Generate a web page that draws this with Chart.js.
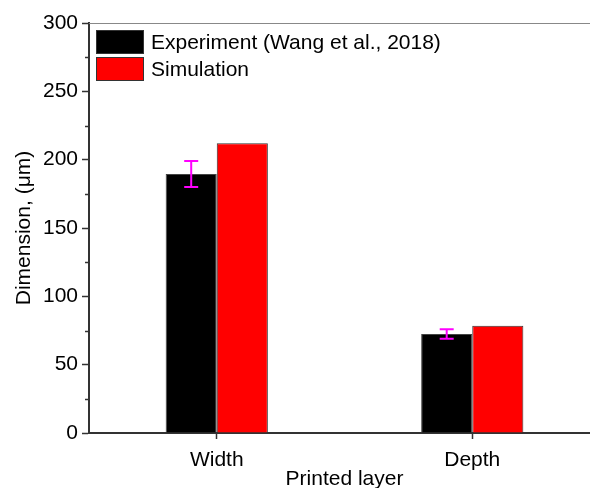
<!DOCTYPE html>
<html>
<head>
<meta charset="utf-8">
<script src="https://cdn.jsdelivr.net/npm/chart.js@4"></script>
<style>
  html, body { margin: 0; padding: 0; background: #fff; overflow: hidden; }
  #wrap { width: 600px; height: 488px; }
</style>
</head>
<body>
<div id="wrap"><canvas id="grafico"></canvas></div>
<script>
// datos
const categorias = ["Width", "Depth"];
const experimento = [189.5, 72.5];
const errorExperimento = [9.5, 3.5];
const simulacion = [212, 78.5];
const etiquetas = ["Experiment (Wang et al., 2018)", "Simulation"];

const FUENTE = "'Liberation Sans', Arial, sans-serif";
const TAM = 21;

// barras de error + ticks menores + borde superior + leyenda interna
const extras = {
  id: "extras",
  afterDatasetsDraw(chart) {
    const { ctx, scales } = chart;
    const y = scales.y;
    const meta = chart.getDatasetMeta(0);

    ctx.save();
    ctx.strokeStyle = "#ff00ff";
    ctx.lineWidth = 2;
    meta.data.forEach((bar, i) => {
      const top = y.getPixelForValue(experimento[i] + errorExperimento[i]);
      const bot = y.getPixelForValue(experimento[i] - errorExperimento[i]);
      const cap = 7;
      ctx.beginPath();
      ctx.moveTo(bar.x, top); ctx.lineTo(bar.x, bot);
      ctx.moveTo(bar.x - cap, top); ctx.lineTo(bar.x + cap, top);
      ctx.moveTo(bar.x - cap, bot); ctx.lineTo(bar.x + cap, bot);
      ctx.stroke();
    });
    ctx.restore();
  },
  afterDraw(chart) {
    const { ctx, chartArea, scales } = chart;
    const y = scales.y;
    ctx.save();

    // linea superior gris
    ctx.strokeStyle = "#888";
    ctx.lineWidth = 1;
    ctx.beginPath();
    ctx.moveTo(chartArea.left, chartArea.top + 0.5);
    ctx.lineTo(chartArea.right, chartArea.top + 0.5);
    ctx.stroke();

    // ticks menores del eje Y
    ctx.strokeStyle = "#333";
    ctx.lineWidth = 1.5;
    for (let v = 25; v < 300; v += 50) {
      const py = Math.round(y.getPixelForValue(v)) + 0.5;
      ctx.beginPath();
      ctx.moveTo(chartArea.left - 4, py);
      ctx.lineTo(chartArea.left, py);
      ctx.stroke();
    }

    // leyenda
    const colores = chart.data.datasets.map(d => d.backgroundColor);
    ctx.font = TAM + "px " + FUENTE;
    ctx.textBaseline = "middle";
    etiquetas.forEach((txt, i) => {
      const bx = chartArea.left + 7;
      const by = chartArea.top + 7 + i * 27;
      ctx.fillStyle = colores[i];
      ctx.fillRect(bx, by, 48, 24);
      ctx.strokeStyle = "#333";
      ctx.lineWidth = 1;
      ctx.strokeRect(bx + 0.5, by + 0.5, 47, 23);
      ctx.fillStyle = "#000";
      ctx.fillText(txt, bx + 55, by + 13);
    });
    ctx.restore();
  }
};

new Chart(document.getElementById("grafico"), {
  type: "bar",
  data: {
    labels: categorias,
    datasets: [
      {
        label: etiquetas[0],
        data: experimento,
        backgroundColor: "#000000",
        borderColor: "#444",
        borderWidth: 1,
        categoryPercentage: 0.4,
        barPercentage: 1.0
      },
      {
        label: etiquetas[1],
        data: simulacion,
        backgroundColor: "#ff0000",
        borderColor: "#333",
        borderWidth: 1,
        categoryPercentage: 0.4,
        barPercentage: 1.0
      }
    ]
  },
  options: {
    responsive: true,
    maintainAspectRatio: false,
    animation: false,
    layout: { padding: { top: 23, right: 0, left: 0, bottom: 0 } },
    plugins: {
      legend: { display: false },
      tooltip: { enabled: false }
    },
    scales: {
      x: {
        afterFit: s => { s.height = 55; },
        grid: {
          offset: false,
          drawOnChartArea: false,
          tickLength: 6,
          tickColor: "#333",
          tickWidth: 1.5
        },
        border: { color: "#333", width: 2 },
        ticks: { color: "#000", font: { family: FUENTE, size: TAM }, padding: 9 },
        title: {
          display: true,
          text: "Printed layer",
          color: "#000",
          font: { family: FUENTE, size: TAM },
          padding: { top: 0, bottom: -4 }
        }
      },
      y: {
        min: 0,
        max: 300,
        afterFit: s => { s.width = 89; },
        grid: {
          drawOnChartArea: false,
          tickLength: 7,
          tickColor: "#333",
          tickWidth: 1.5
        },
        border: { color: "#333", width: 2 },
        ticks: {
          stepSize: 50,
          color: "#000",
          font: { family: FUENTE, size: TAM },
          padding: 4
        },
        title: {
          display: true,
          text: "Dimension, (μm)",
          color: "#000",
          font: { family: FUENTE, size: TAM },
          padding: { top: 12, bottom: 0 }
        }
      }
    }
  },
  plugins: [extras]
});
</script>
</body>
</html>
